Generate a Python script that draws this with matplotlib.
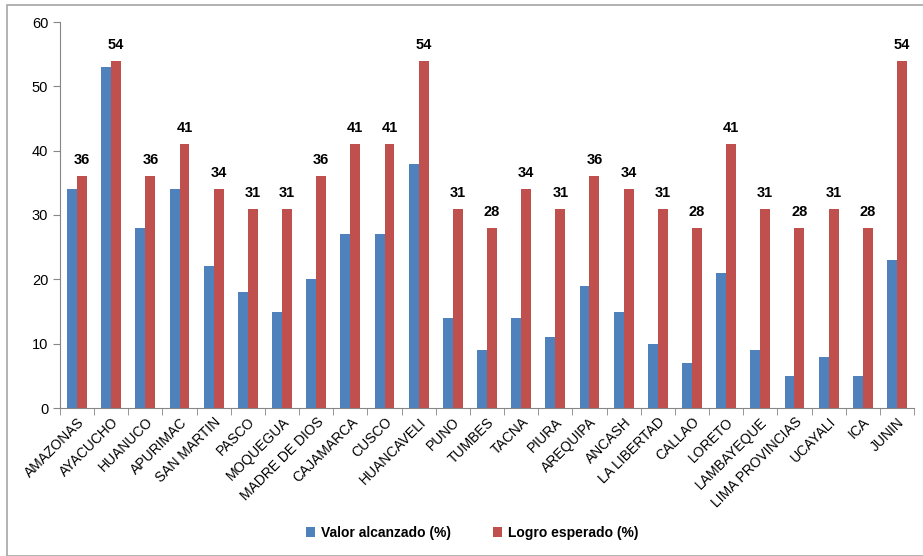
import matplotlib.pyplot as plt
import numpy as np
from matplotlib.patches import Rectangle

regions = ['AMAZONAS', 'AYACUCHO', 'HUANUCO', 'APURIMAC', 'SAN MARTIN', 'PASCO',
           'MOQUEGUA', 'MADRE DE DIOS', 'CAJAMARCA', 'CUSCO', 'HUANCAVELI', 'PUNO',
           'TUMBES', 'TACNA', 'PIURA', 'AREQUIPA', 'ANCASH', 'LA LIBERTAD', 'CALLAO',
           'LORETO', 'LAMBAYEQUE', 'LIMA PROVINCIAS', 'UCAYALI', 'ICA', 'JUNIN']
valor_alcanzado = [34, 53, 28, 34, 22, 18, 15, 20, 27, 27, 38, 14, 9, 14, 11, 19,
                   15, 10, 7, 21, 9, 5, 8, 5, 23]
logro_esperado = [36, 54, 36, 41, 34, 31, 31, 36, 41, 41, 54, 31, 28, 34, 31, 36,
                  34, 31, 28, 41, 31, 28, 31, 28, 54]

plt.rcParams['font.family'] = ['Liberation Sans', 'DejaVu Sans']

fig = plt.figure(figsize=(9.23, 5.56), dpi=100)
# light grey frame around the chart area
fig.patches.append(Rectangle((7 / 923, 0), 1.2, (556 - 5) / 556, transform=fig.transFigure,
                             fill=False, edgecolor='#a6a6a6', linewidth=1.2))
ax = fig.add_axes([60 / 923, 148 / 556, 854 / 923, 386 / 556])

x = np.arange(len(regions))
w = 0.29
ax.bar(x - w / 2, valor_alcanzado, w, color='#4f81bd', label='Valor alcanzado (%)')
ax.bar(x + w / 2, logro_esperado, w, color='#c0504d', label='Logro esperado (%)')

for xi, v in zip(x, logro_esperado):
    ax.text(xi + w / 2, v + 1.4, str(v), ha='center', va='bottom',
            fontsize=10.5, fontweight='bold')

ax.set_xlim(-0.5, len(regions) - 0.5)
ax.set_ylim(0, 60)
ax.set_yticks(range(0, 61, 10))
ax.set_xticks(x)
ax.set_xticklabels(regions, rotation=45, ha='right', rotation_mode='anchor', fontsize=10)
ax.set_xticks(np.arange(-0.5, len(regions), 1), minor=True)
ax.tick_params(axis='x', which='major', length=0, pad=5)
ax.tick_params(axis='x', which='minor', length=5, color='#868686')
ax.tick_params(axis='y', length=5, color='#868686', labelsize=10.5)
for s in ['top', 'right']:
    ax.spines[s].set_visible(False)
for s in ['left', 'bottom']:
    ax.spines[s].set_color('#868686')

ax.legend(loc='center', bbox_to_anchor=(472 / 923, 23 / 556), bbox_transform=fig.transFigure,
          ncol=2, frameon=False, prop={'weight': 'bold', 'size': 10},
          handlelength=0.7, handleheight=0.7, columnspacing=3, handletextpad=0.4)

fig.savefig('out.png', dpi=100)
